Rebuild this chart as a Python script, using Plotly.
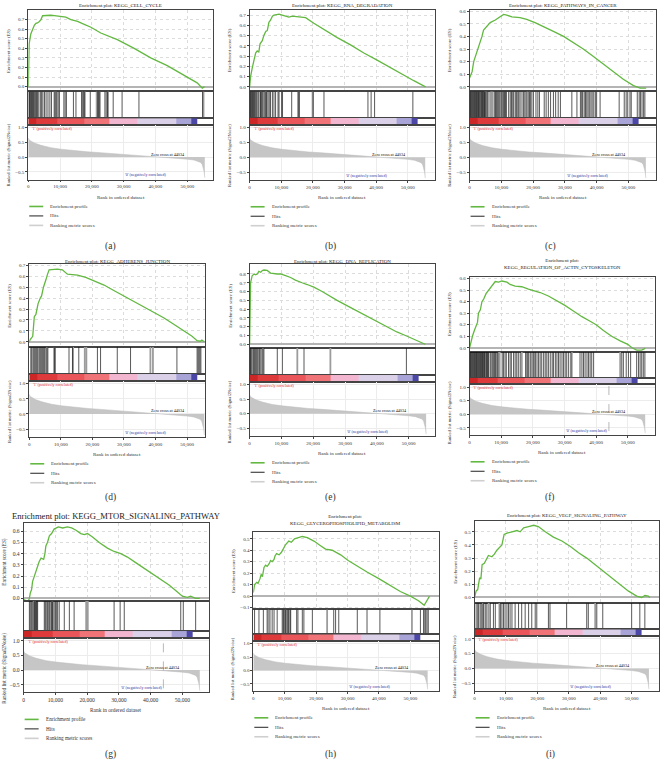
import plotly.graph_objects as go

W, H = 660, 763
K = 1000  # rank values below are given in thousands

# ------------------------------------------------------------------ DATA
panels = ["a", "b", "c", "d", "e", "f", "g", "h", "i"]

titles = {
    "a": "Enrichment plot: KEGG_CELL_CYCLE",
    "b": "Enrichment plot: KEGG_RNA_DEGRADATION",
    "c": "Enrichment plot: KEGG_PATHWAYS_IN_CANCER",
    "d": "Enrichment plot: KEGG_ADHERENS_JUNCTION",
    "e": "Enrichment plot: KEGG_DNA_REPLICATION",
    "f": "Enrichment plot:<br>KEGG_REGULATION_OF_ACTIN_CYTOSKELETON",
    "g": "Enrichment plot: KEGG_MTOR_SIGNALING_PATHWAY",
    "h": "Enrichment plot:<br>KEGG_GLYCEROPHOSPHOLIPID_METABOLISM",
    "i": "Enrichment plot: KEGG_VEGF_SIGNALING_PATHWAY",
}

es_a_x = [0, 0.1, 0.3, 0.8, 1.4, 1.9, 2.4, 2.9, 3.5, 4.0, 4.5, 6.1, 7.1, 8.2, 9.2, 10.3, 11.8, 13.4, 15.5,
          17.6, 19.7, 22.8, 28.0, 33.3, 38.5, 43.7, 49.0, 53.1, 54.7, 55.4]
es_a_y = [0, 0.25, 0.45, 0.55, 0.61, 0.64, 0.66, 0.665, 0.68, 0.70, 0.74, 0.745, 0.745, 0.74, 0.735, 0.735,
          0.725, 0.70, 0.68, 0.65, 0.62, 0.56, 0.49, 0.40, 0.30, 0.22, 0.12, 0.04, -0.015, 0.0]

es_b_x = [0, 0.3, 0.8, 1.4, 1.9, 2.4, 2.9, 3.3, 4.0, 4.5, 5.1, 5.6, 6.1, 6.6, 7.2, 7.7, 9.3, 10.3, 11.4, 12.4,
          13.5, 15.6, 17.7, 20.3, 23.5, 27.7, 31.9, 36.1, 40.3, 44.5, 48.7, 51.9, 55.6]
es_b_y = [0, 0.10, 0.18, 0.25, 0.33, 0.35, 0.34, 0.42, 0.45, 0.50, 0.54, 0.55, 0.63, 0.65, 0.69, 0.70, 0.71,
          0.70, 0.69, 0.68, 0.69, 0.68, 0.675, 0.62, 0.56, 0.48, 0.41, 0.33, 0.26, 0.185, 0.11, 0.06, 0.0]

es_c_x = [0, 0.4, 0.8, 1.3, 1.8, 2.3, 2.8, 3.4, 3.9, 4.4, 5.5, 6.5, 8.1, 9.6, 10.7, 11.7, 13.3, 15.9, 18.0,
          20.6, 23.3, 26.4, 29.6, 32.7, 35.8, 39.0, 42.1, 45.3, 48.4, 51.6, 53.7, 55.6]
es_c_y = [0.07, 0.10, 0.12, 0.20, 0.24, 0.28, 0.31, 0.35, 0.40, 0.45, 0.48, 0.51, 0.53, 0.56, 0.575, 0.57,
          0.555, 0.55, 0.535, 0.51, 0.48, 0.44, 0.40, 0.35, 0.30, 0.24, 0.18, 0.12, 0.06, 0.01, -0.01, -0.01]

es_d_x = [0, 0.3, 1.1, 1.4, 1.6, 2.1, 2.4, 2.8, 3.5, 3.9, 4.5, 4.9, 5.3, 5.8, 6.3, 8.9, 10.5, 12.1, 15.3,
          17.9, 19.5, 21.6, 23.7, 26.8, 30.0, 33.2, 36.3, 39.5, 42.6, 45.8, 48.9, 51.6, 53.2, 54.2, 54.7, 55.5]
es_d_y = [0, 0.02, 0.05, 0.15, 0.23, 0.25, 0.30, 0.35, 0.40, 0.42, 0.50, 0.55, 0.57, 0.62, 0.66, 0.665,
          0.66, 0.62, 0.61, 0.59, 0.57, 0.545, 0.52, 0.47, 0.42, 0.37, 0.32, 0.27, 0.22, 0.16, 0.10, 0.05,
          0.01, 0.005, 0.015, 0.0]

es_e_x = [0, 0.2, 0.3, 0.8, 1.4, 1.9, 2.4, 2.9, 3.5, 4.0, 4.5, 5.5, 6.6, 8.7, 9.7, 11.3, 12.9, 14.4, 15.5,
          16.5, 18.1, 20.2, 22.8, 25.4, 27.5, 30.6, 33.8, 36.9, 40.1, 43.2, 46.3, 49.0, 52.1, 55.2]
es_e_y = [0, 0.5, 0.7, 0.78, 0.80, 0.79, 0.80, 0.83, 0.82, 0.84, 0.845, 0.84, 0.81, 0.80, 0.80, 0.78, 0.76,
          0.73, 0.71, 0.70, 0.68, 0.65, 0.60, 0.54, 0.50, 0.44, 0.38, 0.32, 0.26, 0.20, 0.14, 0.10, 0.05, 0.0]

es_f_x = [0, 0.4, 0.9, 1.5, 2.1, 2.5, 2.8, 3.4, 3.9, 4.4, 5.2, 6.0, 6.7, 7.4, 8.1, 9.2, 10.2, 11.8, 12.8,
          14.4, 16.5, 18.6, 20.0, 22.3, 24.9, 27.6, 30.0, 32.8, 35.5, 38.1, 40.0, 42.3, 44.9, 47.6, 50.0,
          51.3, 52.8, 54.4, 55.5]
es_f_y = [0, 0.05, 0.10, 0.15, 0.20, 0.22, 0.30, 0.33, 0.40, 0.42, 0.47, 0.50, 0.53, 0.55, 0.575, 0.57,
          0.58, 0.57, 0.55, 0.535, 0.53, 0.51, 0.50, 0.48, 0.45, 0.41, 0.37, 0.32, 0.27, 0.23, 0.20, 0.15,
          0.10, 0.06, 0.03, 0.0, -0.02, -0.02, -0.005]

es_g_x = [0, 0.7, 1.5, 1.8, 2.1, 2.5, 2.8, 3.4, 3.9, 4.4, 4.9, 5.5, 6.3, 6.7, 7.0, 7.5, 8.1, 8.8, 9.6, 10.9,
          12.3, 13.8, 15.1, 16.5, 18.0, 19.1, 20.1, 21.7, 23.8, 26.4, 28.5, 30.6, 32.7, 35.3, 37.9, 40.6,
          43.2, 45.8, 47.9, 50.0, 51.6, 52.6, 54.2, 55.5]
es_g_y = [-0.01, -0.02, -0.02, 0.0, 0.05, 0.08, 0.15, 0.20, 0.25, 0.28, 0.33, 0.36, 0.35, 0.40, 0.47, 0.50,
          0.56, 0.58, 0.62, 0.64, 0.63, 0.64, 0.63, 0.61, 0.58, 0.57, 0.58, 0.55, 0.50, 0.45, 0.42, 0.40,
          0.37, 0.32, 0.27, 0.22, 0.17, 0.12, 0.07, 0.02, 0.01, 0.02, 0.0, 0.0]

es_h_x = [0, 0.4, 1.1, 1.5, 2.1, 2.5, 2.9, 3.4, 3.9, 4.4, 5.0, 5.5, 6.0, 6.6, 6.9, 7.4, 8.2, 8.9, 9.5, 10.3,
          11.3, 12.1, 13.1, 14.5, 15.6, 17.2, 19.3, 21.4, 23.0, 25.1, 27.8, 30.2, 33.1, 36.2, 40.1, 43.6,
          46.8, 50.0, 52.6, 54.4, 55.3, 56.1]
es_h_y = [0.03, 0.10, 0.12, 0.11, 0.15, 0.19, 0.17, 0.25, 0.27, 0.26, 0.28, 0.31, 0.30, 0.32, 0.35, 0.37,
          0.36, 0.38, 0.41, 0.45, 0.48, 0.47, 0.50, 0.51, 0.52, 0.51, 0.48, 0.44, 0.41, 0.40, 0.36, 0.31,
          0.26, 0.21, 0.15, 0.09, 0.04, 0.0, -0.04, -0.08, -0.04, 0.0]

es_i_x = [0, 0.5, 1.0, 1.6, 2.0, 2.4, 3.1, 3.7, 4.4, 5.5, 6.3, 7.1, 7.9, 8.7, 9.4, 10.3, 11.9, 13.5, 14.5,
          15.6, 17.2, 18.8, 20.3, 22.5, 25.1, 27.8, 30.4, 33.1, 35.7, 38.3, 41.0, 43.6, 46.3, 48.9, 51.6,
          53.2, 54.2, 55.3, 55.8]
es_i_y = [0, 0.05, 0.06, 0.15, 0.14, 0.25, 0.26, 0.29, 0.32, 0.31, 0.33, 0.36, 0.38, 0.40, 0.48, 0.49,
          0.50, 0.51, 0.50, 0.53, 0.54, 0.55, 0.54, 0.50, 0.46, 0.43, 0.39, 0.34, 0.30, 0.25, 0.20, 0.15,
          0.10, 0.05, 0.01, 0.0, 0.015, 0.01, 0.0]

hits_a = [0.2, 0.4, 0.6, 0.8, 1.05, 1.26, 1.46, 1.67, 1.99, 2.3, 2.6, 2.9, 3.3, 3.8, 4.2, 4.6, 5.1, 5.6, 6.2,
          6.8, 7.3, 8.4, 9.0, 9.4, 9.8, 11.2, 11.6, 12.0, 14.2, 15.0, 16.8, 17.3, 17.6, 19.5, 21.8, 22.1,
          22.5, 24.1, 24.5, 24.9, 26.7, 29.5, 34.8, 54.8]
hits_a_light = [8.2, 8.7, 17.0, 17.8, 21.5, 22.4, 25.1, 55.1]
hits_b = [0.1, 0.3, 0.5, 0.7, 0.9, 1.2, 1.4, 1.6, 1.9, 2.2, 2.6, 2.9, 3.4, 3.7, 4.1, 4.5, 4.9, 5.4, 5.8,
          6.2, 6.6, 7.2, 7.7, 8.2, 9.3, 10.1, 10.4, 13.3, 15.3, 15.7, 20.1, 23.5, 37.4, 38.4, 39.5, 51.6]
hits_b_light = [3.5, 5.0, 5.2, 9.0, 15.5, 19.9]
hits_c = [0.1, 0.3, 0.5, 0.7, 0.9, 1.2, 1.4, 1.6, 1.8, 2.0, 2.2, 2.4, 2.6, 2.8, 3.0, 3.2, 3.5, 3.7, 3.9,
          4.1, 4.3, 4.5, 4.7, 5.1, 5.6, 6.1, 7.9, 8.2, 8.4, 8.7, 9.0, 9.3, 9.6, 10.0, 10.3, 10.7, 11.0, 11.3,
          11.6, 12.3, 12.8, 13.2, 13.6, 13.9, 14.4, 14.8, 15.2, 15.5, 15.9, 16.5, 17.0, 17.4, 17.8, 18.7,
          19.1, 19.6, 20.1, 20.9, 21.5, 22.0, 23.5, 24.1, 24.8, 25.5, 26.4, 27.1, 27.9, 28.6, 32.2, 33.8,
          34.9, 35.3, 35.6, 36.1, 36.5, 36.9, 37.3, 37.7, 38.2, 38.6, 39.1, 39.6, 40.0, 41.1, 47.1, 48.7,
          49.3, 49.8, 50.5, 50.9, 52.8, 53.4, 53.8, 54.3, 54.8, 55.2]
hits_c_light = [4.9, 5.3, 6.7, 7.0, 7.3, 18.2, 18.9]
hits_d = [0.5, 0.8, 1.2, 1.5, 1.8, 2.1, 2.4, 2.7, 3.1, 3.4, 3.7, 4.0, 4.3, 4.6, 4.9, 5.3, 5.9, 7.9, 8.2,
          12.6, 13.7, 15.7, 21.6, 22.6, 27.9, 32.1, 46.8, 53.2, 53.5, 53.8, 54.1, 54.4]
hits_d_light = [5.6, 8.0, 13.9, 17.6, 18.1, 38.4, 39.2]
hits_e = [0.1, 0.3, 0.5, 0.8, 1.2, 1.5, 1.8, 2.1, 2.4, 2.7, 3.1, 3.5, 3.9, 4.5, 8.7, 10.3, 17.1, 49.3]
hits_e_light = [4.2, 15.0, 25.4]
hits_f = [0.1, 0.3, 0.5, 0.7, 0.9, 1.2, 1.4, 1.6, 1.8, 2.0, 2.2, 2.4, 2.6, 2.8, 3.1, 3.3, 3.5, 3.7, 3.9,
          4.1, 4.3, 4.5, 4.7, 4.9, 5.2, 5.4, 5.6, 5.8, 6.0, 6.5, 6.8, 7.2, 7.6, 7.9, 8.2, 8.6, 8.9, 10.3,
          10.7, 11.2, 11.6, 12.3, 12.8, 13.2, 13.9, 14.4, 14.9, 15.4, 16.0, 17.7, 18.1, 18.4, 18.7, 19.2,
          19.7, 20.1, 20.4, 20.8, 21.3, 21.8, 22.3, 22.8, 23.4, 23.9, 24.4, 24.9, 25.5, 26.1, 26.5, 27.1,
          27.6, 28.1, 28.6, 29.2, 29.7, 30.2, 30.7, 31.3, 32.0, 34.9, 35.5, 36.0, 36.5, 37.1, 37.6, 38.1,
          38.6, 39.2, 48.1, 48.6, 49.5, 50.2, 50.9, 52.8, 53.4, 53.9, 54.4, 54.9, 55.4]
hits_f_light = [9.2, 9.5, 16.5, 32.3, 47.6]
hits_g = [1.8, 2.1, 2.5, 2.9, 3.4, 3.8, 4.0, 4.2, 4.4, 6.5, 6.8, 7.1, 7.5, 7.9, 8.2, 8.6, 8.9, 9.2, 9.6,
          10.0, 10.3, 10.7, 11.2, 12.8, 14.4, 15.9, 28.5, 30.4, 31.7, 49.5, 50.3, 54.2]
hits_g_light = [3.1, 3.6, 9.0, 19.7, 20.2]
hits_h = [0.4, 1.8, 3.2, 4.4, 5.3, 6.0, 6.6, 7.6, 9.2, 9.5, 9.7, 10.1, 10.4, 10.8, 11.1, 11.3, 11.7, 11.9,
          13.8, 14.2, 15.6, 16.1, 18.8, 25.6, 26.2, 27.2, 33.1, 36.2, 40.3, 53.2, 54.2, 54.6, 54.9, 55.3, 55.7]
hits_h_light = [4.8, 10.2, 23.5, 50.5]
hits_i = [0.5, 1.0, 1.3, 1.8, 2.3, 2.9, 3.4, 3.9, 5.0, 6.0, 6.6, 8.2, 8.7, 9.2, 9.7, 10.3, 10.8, 11.3, 11.9,
          12.9, 14.0, 15.0, 16.1, 17.2, 18.2, 19.3, 19.8, 23.5, 24.0, 29.3, 35.7, 36.2, 38.9, 40.8, 50.0,
          52.6, 54.2]
hits_i_light = [2.6, 4.5, 7.9, 38.4]

es_ticks = {
    "a": [0.0, 0.1, 0.2, 0.3, 0.4, 0.5, 0.6, 0.7],
    "b": [0.0, 0.1, 0.2, 0.3, 0.4, 0.5, 0.6, 0.7],
    "c": [0.0, 0.1, 0.2, 0.3, 0.4, 0.5, 0.6],
    "d": [0.0, 0.1, 0.2, 0.3, 0.4, 0.5, 0.6, 0.7],
    "e": [0.0, 0.1, 0.2, 0.3, 0.4, 0.5, 0.6, 0.7, 0.8],
    "f": [0.0, 0.1, 0.2, 0.3, 0.4, 0.5, 0.6],
    "g": [0.0, 0.1, 0.2, 0.3, 0.4, 0.5, 0.6],
    "h": [-0.1, 0.0, 0.1, 0.2, 0.3, 0.4, 0.5],
    "i": [0.0, 0.1, 0.2, 0.3, 0.4, 0.5],
}

# ranked list metric (shared by all panels)
metric_x = [0, 0.1, 0.3, 0.8, 1.9, 4.0, 7.1, 10.2, 14.4, 18.6, 22.8, 28.0, 33.3, 36.4, 39.5, 43.7, 45.8,
            47.9, 50.0, 52.1, 53.1, 54.2, 54.7, 55.0, 55.3, 55.5]
metric_y = [0.65, 0.62, 0.58, 0.55, 0.48, 0.40, 0.32, 0.27, 0.22, 0.18, 0.15, 0.11, 0.07, 0.04, 0.02, 0.0,
            -0.02, -0.04, -0.07, -0.10, -0.13, -0.18, -0.25, -0.35, -0.5, -0.7]
metric_ticks = [-0.5, 0.0, 0.5, 1.0]
rank_ticks = [0, 10000, 20000, 30000, 40000, 50000]
zero_cross = 44.034
band_edges = [0, 2.5, 9, 17.5, 25.5, 34.3, 46.5, 51.3, 53.2, 55.6]

es_x = {"a": es_a_x, "b": es_b_x, "c": es_c_x, "d": es_d_x, "e": es_e_x, "f": es_f_x, "g": es_g_x,
        "h": es_h_x, "i": es_i_x}
es_y = {"a": es_a_y, "b": es_b_y, "c": es_c_y, "d": es_d_y, "e": es_e_y, "f": es_f_y, "g": es_g_y,
        "h": es_h_y, "i": es_i_y}
hits = {"a": hits_a, "b": hits_b, "c": hits_c, "d": hits_d, "e": hits_e, "f": hits_f, "g": hits_g,
        "h": hits_h, "i": hits_i}
hits_light = {"a": hits_a_light, "b": hits_b_light, "c": hits_c_light, "d": hits_d_light,
              "e": hits_e_light, "f": hits_f_light, "g": hits_g_light, "h": hits_h_light, "i": hits_i_light}

# ------------------------------------------------------------------ STYLE / GEOMETRY (pixels)
band_colors = ["#cc2626", "#de3a3c", "#e95558", "#f07378", "#f3b6d0", "#dad0e8", "#a9a4d8", "#4b47a6"]
GREEN = "#62b840"
LINE = "#444444"
FONT = "Liberation Serif"

geom = {
    "a": dict(L=27.3, R=212.7, esT=9, esB=90.7, cbT=117.5, cbB=124, mB=179, xmax=58.2,
              es_rng=[-0.05, 0.80], ty=4.5, cx=110, cy=246),
    "b": dict(L=249, R=435, esT=9, esB=90.7, cbT=117.3, cbB=124, mB=179.3, xmax=58.7,
              es_rng=[-0.045, 0.75], ty=4.5, cx=330, cy=246),
    "c": dict(L=469.3, R=656, esT=9, esB=90.7, cbT=117.3, cbB=124, mB=179.3, xmax=58.7,
              es_rng=[-0.037, 0.61], ty=4.5, cx=550, cy=246),
    "d": dict(L=28.3, R=204.3, esT=264, esB=346.7, cbT=374, cbB=380.7, mB=437, xmax=55.7,
              es_rng=[-0.046, 0.71], ty=260.7, cx=110, cy=498),
    "e": dict(L=249, R=435, esT=264, esB=347.7, cbT=375, cbB=381.7, mB=436, xmax=58.4,
              es_rng=[-0.04, 0.91], ty=260.7, cx=330, cy=498),
    "f": dict(L=469.3, R=655, esT=276.7, esB=351.7, cbT=377.7, cbB=384.3, mB=435, xmax=58.6,
              es_rng=[-0.035, 0.615], ty=263.5, cx=550, cy=498),
    "g": dict(L=22.7, R=208.3, esT=523.3, esB=601.7, cbT=631.7, cbB=638.3, mB=693.3, xmax=58.4,
              es_rng=[-0.024, 0.675], ty=516, cx=110, cy=755),
    "h": dict(L=252.7, R=438.3, esT=532.3, esB=610, cbT=635, cbB=641.7, mB=691.7, xmax=59.0,
              es_rng=[-0.116, 0.56], ty=520, cx=330, cy=755),
    "i": dict(L=474.3, R=659.3, esT=521.7, esB=603.3, cbT=630, cbB=636.7, mB=691.7, xmax=58.8,
              es_rng=[-0.04, 0.58], ty=515.7, cx=550, cy=755),
}
dashed_zero = {"f", "g"}
metric_rng = [-0.76, 1.1]


def X(px):
    return px / W


def Y(py):
    return 1 - py / H


def axname(n, kind):
    return f"{kind}axis" + ("" if n == 1 else str(n))


def ref(n, kind):
    return kind + ("" if n == 1 else str(n))


fig = go.Figure()
layout = dict(width=W, height=H, autosize=False, margin=dict(l=0, r=0, t=0, b=0),
              paper_bgcolor="white", plot_bgcolor="white", showlegend=False,
              font=dict(family=FONT, size=5, color="#222222"))
annotations = []
shapes = []

for i, p in enumerate(panels):
    g = geom[p]
    n0, n1, n2, n3 = i * 4 + 1, i * 4 + 2, i * 4 + 3, i * 4 + 4
    big = (p == "g")
    tfs = 5.6 if big else 5
    dom_x = [X(g["L"]), X(g["R"])]
    xr = [0, g["xmax"] * K]
    boxed = dict(showline=True, linecolor=LINE, linewidth=0.8, mirror=True, zeroline=False)

    # --- Enrichment score axes
    layout[axname(n0, "x")] = dict(domain=dom_x, range=xr, anchor=ref(n0, "y"), showticklabels=False,
                                   ticks="", tickvals=rank_ticks, showgrid=True, gridcolor="#dcdcdc",
                                   griddash="dot", gridwidth=0.6, **boxed)
    layout[axname(n0, "y")] = dict(domain=[Y(g["esB"]), Y(g["esT"])], range=g["es_rng"],
                                   anchor=ref(n0, "x"), tickvals=es_ticks[p], tickformat=".1f",
                                   ticks="outside", ticklen=2, tickwidth=0.6, tickcolor=LINE,
                                   tickfont=dict(size=tfs, family=FONT, color="#333"),
                                   showgrid=True, gridcolor="#dcdcdc", griddash="dot", gridwidth=0.6,
                                   showline=True, linecolor=LINE, linewidth=0.8, mirror=True,
                                   zeroline=True, zerolinecolor="#b4b4b4", zerolinewidth=1.6)
    # --- Hits axes
    layout[axname(n1, "x")] = dict(domain=dom_x, range=xr, anchor=ref(n1, "y"), showticklabels=False,
                                   ticks="", showgrid=False, **boxed)
    layout[axname(n1, "y")] = dict(domain=[Y(g["cbT"]), Y(g["esB"])], range=[0, 1], anchor=ref(n1, "x"),
                                   showticklabels=False, ticks="", showgrid=False, **boxed)
    # --- Colour bar axes
    layout[axname(n2, "x")] = dict(domain=dom_x, range=xr, anchor=ref(n2, "y"), showticklabels=False,
                                   ticks="", showgrid=False, **boxed)
    layout[axname(n2, "y")] = dict(domain=[Y(g["cbB"]), Y(g["cbT"])], range=[0, 1], anchor=ref(n2, "x"),
                                   showticklabels=False, ticks="", showgrid=False, **boxed)
    # --- Ranked metric axes
    layout[axname(n3, "x")] = dict(domain=dom_x, range=xr, anchor=ref(n3, "y"), tickvals=rank_ticks,
                                   tickformat=",d", ticks="outside", ticklen=2, tickwidth=0.6,
                                   tickcolor=LINE, tickfont=dict(size=tfs, family=FONT, color="#333"),
                                   showgrid=True, gridcolor="#ececec", gridwidth=0.6, **boxed)
    layout[axname(n3, "y")] = dict(domain=[Y(g["mB"]), Y(g["cbB"])], range=metric_rng,
                                   anchor=ref(n3, "x"), tickvals=metric_ticks, tickformat=".1f",
                                   ticks="outside", ticklen=2, tickwidth=0.6, tickcolor=LINE,
                                   tickfont=dict(size=tfs, family=FONT, color="#333"),
                                   showgrid=True, gridcolor="#ececec", gridwidth=0.6, **boxed)

    # ---- traces
    fig.add_trace(go.Scatter(x=[v * K for v in es_x[p]], y=es_y[p], mode="lines",
                             line=dict(color=GREEN, width=1.3), hoverinfo="skip",
                             xaxis=ref(n0, "x"), yaxis=ref(n0, "y")))
    for lst, col, wd in ((hits_light[p], "#9c9c9c", 1.8), (hits[p], "#111111", 0.7)):
        hx, hy = [], []
        for h in lst:
            hx += [h * K, h * K, None]
            hy += [0, 1, None]
        fig.add_trace(go.Scatter(x=hx, y=hy, mode="lines", line=dict(color=col, width=wd),
                                 hoverinfo="skip", xaxis=ref(n1, "x"), yaxis=ref(n1, "y")))
    nb = len(band_colors)
    fig.add_trace(go.Heatmap(x=[e * K for e in band_edges], y=[0, 1], z=[list(range(nb))],
                             zmin=0, zmax=nb - 1, showscale=False, hoverinfo="skip",
                             colorscale=[[k / (nb - 1), c] for k, c in enumerate(band_colors)],
                             xaxis=ref(n2, "x"), yaxis=ref(n2, "y")))
    fig.add_trace(go.Scatter(x=[v * K for v in metric_x], y=metric_y, mode="lines", fill="tozeroy",
                             fillcolor="#c6c6c6", line=dict(color="#bcbcbc", width=0.5),
                             hoverinfo="skip", xaxis=ref(n3, "x"), yaxis=ref(n3, "y")))
    if p in dashed_zero:
        fig.add_trace(go.Scatter(x=[zero_cross * K, zero_cross * K], y=[-0.62, metric_rng[1]], mode="lines",
                                 line=dict(color="#8a8a8a", width=0.6, dash="dash"), hoverinfo="skip",
                                 xaxis=ref(n3, "x"), yaxis=ref(n3, "y")))

    # ---- texts
    cxp = (g["L"] + g["R"]) / 2
    annotations.append(dict(text=titles[p], x=X(cxp), y=Y(g["ty"]), xref="paper", yref="paper",
                            showarrow=False, xanchor="center", yanchor="middle",
                            font=dict(size=8.6 if big else 5.0, family=FONT, color="#222")))
    annotations.append(dict(text="Enrichment score (ES)", x=X(g["L"] - 20), y=Y((g["esT"] + g["esB"]) / 2),
                            xref="paper", yref="paper", showarrow=False, textangle=-90,
                            xanchor="center", yanchor="middle",
                            font=dict(size=5.2 if big else 4.8, family=FONT, color="#333")))
    annotations.append(dict(text="Ranked list metric (Signal2Noise)", x=X(g["L"] - 20),
                            y=Y((g["cbB"] + g["mB"]) / 2 + 3), xref="paper", yref="paper",
                            showarrow=False, textangle=-90, xanchor="center", yanchor="middle",
                            font=dict(size=5.2 if big else 4.6, family=FONT, color="#333")))
    annotations.append(dict(text="Rank in ordered dataset", x=X(cxp), y=Y(g["mB"] + 18), xref="paper",
                            yref="paper", showarrow=False, xanchor="center", yanchor="middle",
                            font=dict(size=5.4 if big else 5, family=FONT, color="#333")))
    annotations.append(dict(text="'1' (positively correlated)", x=0.6 * K, y=0.97, xref=ref(n3, "x"),
                            yref=ref(n3, "y"), showarrow=False, xanchor="left", yanchor="middle",
                            font=dict(size=4, family=FONT, color="#e0262a")))
    annotations.append(dict(text=f"Zero cross at {int(round(zero_cross * K))}", x=zero_cross * K, y=0.1,
                            xref=ref(n3, "x"), yref=ref(n3, "y"), showarrow=False, xanchor="center",
                            yanchor="middle", font=dict(size=4.2, family=FONT, color="#111")))
    annotations.append(dict(text="'0' (negatively correlated)", x=37 * K, y=-0.6, xref=ref(n3, "x"),
                            yref=ref(n3, "y"), showarrow=False, xanchor="center", yanchor="middle",
                            font=dict(size=4, family=FONT, color="#2a2ea0")))
    # legend
    leg = [("Enrichment profile", GREEN, 1.6), ("Hits", "#222222", 1.0), ("Ranking metric scores", "#cfcfcf", 1.6)]
    for k, (lab, col, wd) in enumerate(leg):
        ly = g["mB"] + 27 + k * 9.5
        shapes.append(dict(type="line", xref="paper", yref="paper", x0=X(g["L"] + 1), x1=X(g["L"] + 15),
                           y0=Y(ly), y1=Y(ly), line=dict(color=col, width=wd)))
        annotations.append(dict(text=lab, x=X(g["L"] + 20), y=Y(ly), xref="paper", yref="paper",
                                showarrow=False, xanchor="left", yanchor="middle",
                                font=dict(size=5.2 if big else 5, family=FONT, color="#333")))
    annotations.append(dict(text=f"({p})", x=X(g["cx"]), y=Y(g["cy"]), xref="paper", yref="paper",
                            showarrow=False, xanchor="center", yanchor="middle",
                            font=dict(size=9.5, family=FONT, color="#333")))

layout["annotations"] = annotations
layout["shapes"] = shapes
fig.update_layout(**layout)
# the page body has a default 8px margin; remove it so the figure fills the window exactly
fig.write_html("out.html", config={"displayModeBar": False},
               post_script="document.body.style.margin='0px';document.body.style.overflow='hidden';")
